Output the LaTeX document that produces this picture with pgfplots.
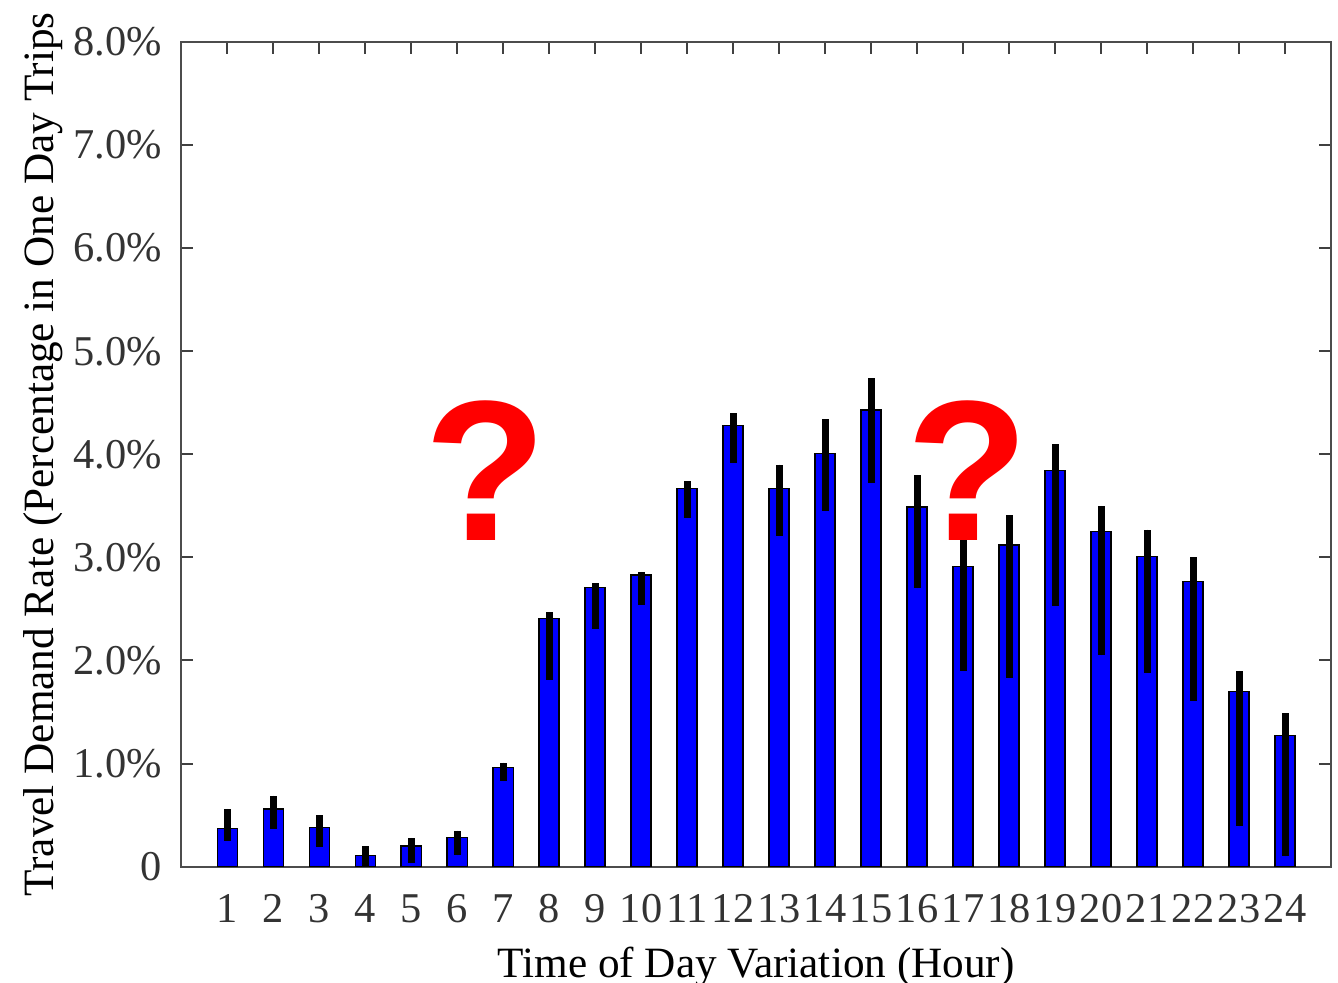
\documentclass[border=0pt]{standalone}
\usepackage{pgfplots}
\pgfplotsset{compat=1.18}
\usepackage{pgfplotstable}
\usepackage{fontspec}
\setmainfont{Liberation Serif}
\newfontfamily\qfont{Liberation Sans}
\definecolor{barblue}{HTML}{0000FF}
\definecolor{labgray}{HTML}{333333}

% hour, rate (%), error up, error down
\pgfplotstableread{
x  y     ep    em
1  0.37  0.19  0.12
2  0.56  0.13  0.19
3  0.38  0.12  0.19
4  0.11  0.09  0.11
5  0.20  0.08  0.16
6  0.28  0.07  0.17
7  0.96  0.05  0.13
8  2.41  0.06  0.60
9  2.71  0.04  0.40
10 2.83  0.03  0.29
11 3.67  0.07  0.29
12 4.28  0.12  0.36
13 3.67  0.23  0.46
14 4.01  0.33  0.56
15 4.43  0.31  0.71
16 3.49  0.31  0.79
17 2.91  0.29  1.01
18 3.12  0.29  1.29
19 3.84  0.26  1.31
20 3.25  0.25  1.20
21 3.01  0.26  1.13
22 2.77  0.23  1.16
23 1.70  0.20  1.31
24 1.27  0.22  1.17
}\demand

\begin{document}
\begin{tikzpicture}
\begin{axis}[
    scale only axis,
    width=287.25pt,
    height=206pt,
    xmin=0, xmax=25,
    ymin=0, ymax=8,
    xtick={1,...,24},
    ytick={0,1,...,8},
    yticklabels={0,1.0\%,2.0\%,3.0\%,4.0\%,5.0\%,6.0\%,7.0\%,8.0\%},
    tick align=inside,
    xtick pos=both,
    ytick pos=both,
    major tick length=3pt,
    axis line style={black!70, line width=0.5pt},
    tick style={black!75, line width=0.5pt},
    ticklabel style={font=\fontsize{10.6}{12}\selectfont, text=labgray},
    /pgf/number format/assume math mode=true,
    xticklabel style={anchor=base, yshift=-14pt},
    yticklabel style={xshift=-1.25pt},
    xlabel={Time of Day Variation (Hour)},
    ylabel={Travel Demand Rate (Percentage in One Day Trips},
    label style={font=\fontsize{10.8}{12}\selectfont, text=black},
    xlabel style={at={(axis description cs:0.5,0)}, anchor=base, yshift=-27.75pt},
    ylabel style={at={(axis description cs:0,0.5)}, anchor=base, rotate=0, yshift=32pt},
]
\addplot[ybar, bar width=5pt, fill=barblue, draw=black, line width=0.3pt,
    error bars/.cd, y dir=both, y explicit, error mark=none,
    error bar style={line width=1.75pt, black}]
    table[x=x, y=y, y error plus=ep, y error minus=em] {\demand};
\node[text=red, font=\qfont\bfseries\fontsize{50}{50}\selectfont] at (axis cs:6.62,3.84) {?};
\node[text=red, font=\qfont\bfseries\fontsize{50}{50}\selectfont] at (axis cs:17.1,3.84) {?};
\end{axis}
\pgfresetboundingbox
\useasboundingbox ([xshift=-45.25pt,yshift=-29pt]current axis.south west)
    rectangle ([xshift=1.75pt,yshift=10.5pt]current axis.north east);
\end{tikzpicture}
\end{document}
